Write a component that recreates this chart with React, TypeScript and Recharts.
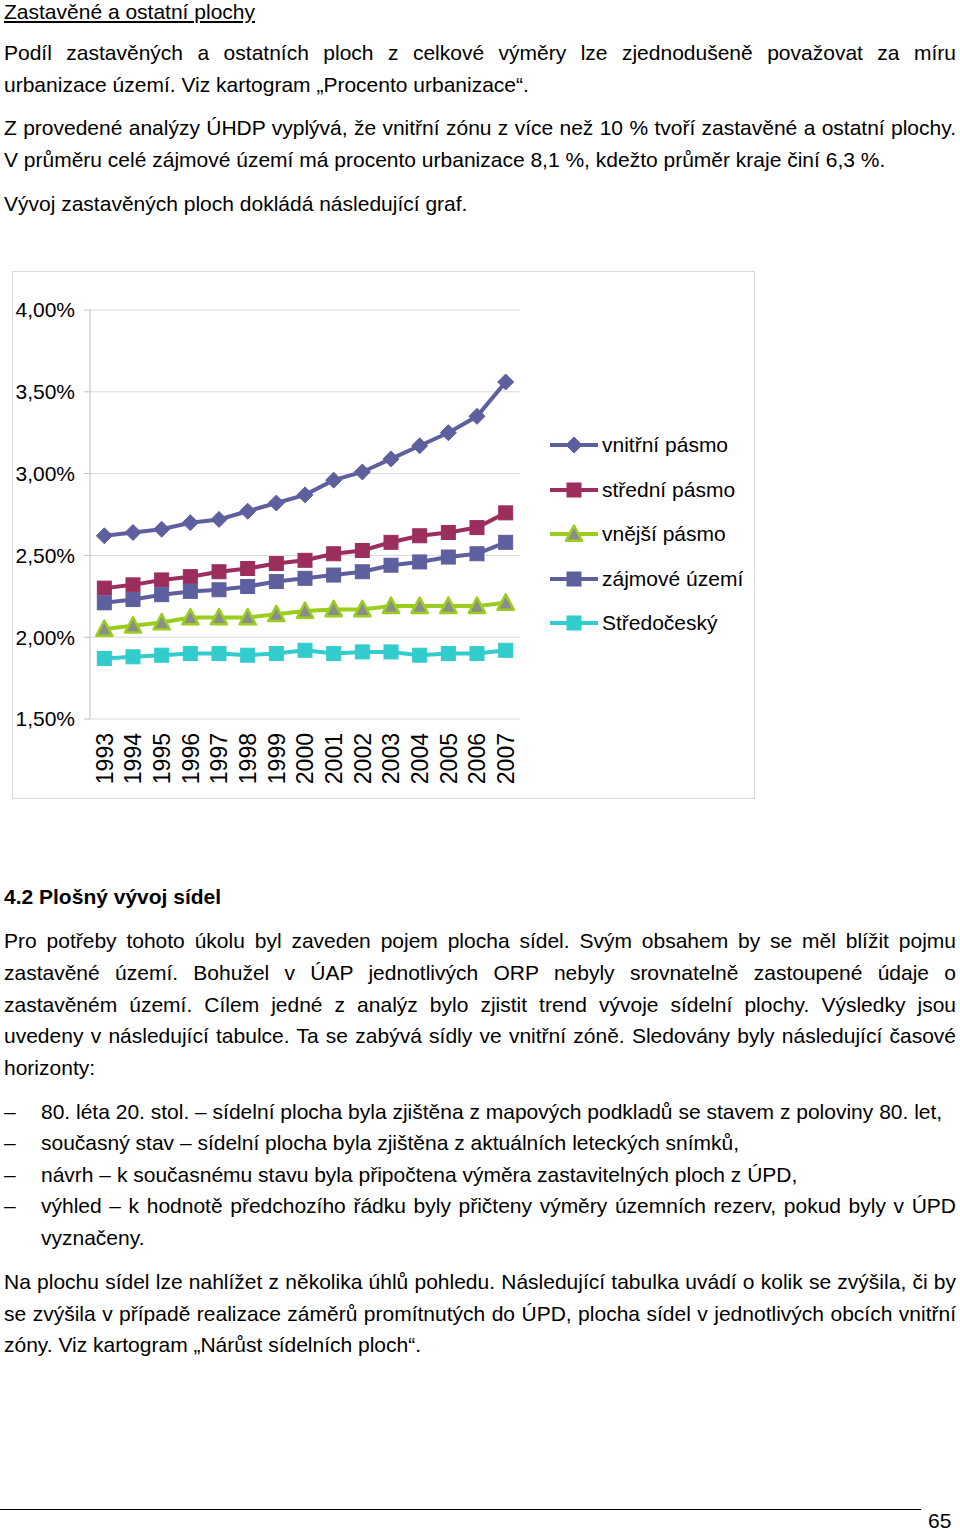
import React from 'react'
import {
  LineChart, Line, XAxis, YAxis, CartesianGrid, Legend,
} from 'recharts'

const years = ['1993', '1994', '1995', '1996', '1997', '1998', '1999', '2000', '2001', '2002', '2003', '2004', '2005', '2006', '2007']
const vnitrni = [2.62, 2.64, 2.66, 2.70, 2.72, 2.77, 2.82, 2.87, 2.96, 3.01, 3.09, 3.17, 3.25, 3.35, 3.56]
const stredni = [2.30, 2.32, 2.35, 2.37, 2.40, 2.42, 2.45, 2.47, 2.51, 2.53, 2.58, 2.62, 2.64, 2.67, 2.76]
const vnejsi = [2.05, 2.07, 2.09, 2.12, 2.12, 2.12, 2.14, 2.16, 2.17, 2.17, 2.19, 2.19, 2.19, 2.19, 2.21]
const zajmove = [2.21, 2.23, 2.26, 2.28, 2.29, 2.31, 2.34, 2.36, 2.38, 2.40, 2.44, 2.46, 2.49, 2.51, 2.58]
const stredocesky = [1.87, 1.88, 1.89, 1.90, 1.90, 1.89, 1.90, 1.92, 1.90, 1.91, 1.91, 1.89, 1.90, 1.90, 1.92]
const yTicks = [1.5, 2.0, 2.5, 3.0, 3.5, 4.0]

const FONT = '"Liberation Sans", Arial, sans-serif'

type Shape = 'diamond' | 'square' | 'triangle'

const series: { key: string; name: string; line: string; fill: string; shape: Shape }[] = [
  { key: 'vnitrni', name: 'vnitřní pásmo', line: '#5e5f9f', fill: '#5e5f9f', shape: 'diamond' },
  { key: 'stredni', name: 'střední pásmo', line: '#9c2e5e', fill: '#9c2e5e', shape: 'square' },
  { key: 'vnejsi', name: 'vnější pásmo', line: '#9acd1e', fill: '#8c8c8c', shape: 'triangle' },
  { key: 'zajmove', name: 'zájmové území', line: '#5e5f9f', fill: '#5e5f9f', shape: 'square' },
  { key: 'stredocesky', name: 'Středočeský', line: '#33cccc', fill: '#33cccc', shape: 'square' },
]

const data = years.map((year, i) => ({
  year,
  vnitrni: vnitrni[i],
  stredni: stredni[i],
  vnejsi: vnejsi[i],
  zajmove: zajmove[i],
  stredocesky: stredocesky[i],
}))

function Marker({ cx, cy, shape, fill, line }: { cx: number; cy: number; shape: Shape; fill: string; line: string }) {
  if (shape === 'diamond') {
    const r = 8
    return <polygon points={`${cx},${cy - r} ${cx + r},${cy} ${cx},${cy + r} ${cx - r},${cy}`} fill={fill} stroke={fill} strokeWidth={1} />
  }
  if (shape === 'triangle') {
    const r = 8.5
    return <polygon points={`${cx},${cy - r} ${cx + r * 0.95},${cy + r * 0.8} ${cx - r * 0.95},${cy + r * 0.8}`} fill={fill} stroke={line} strokeWidth={2.5} strokeLinejoin="round" />
  }
  return <rect x={cx - 7} y={cy - 7} width={14} height={14} fill={fill} stroke={fill} strokeWidth={1} />
}

function YearTick({ x, y, payload }: any) {
  const ty = y + 6
  return (
    <text
      x={x}
      y={ty}
      dy="0.36em"
      textAnchor="end"
      transform={`rotate(-90, ${x}, ${ty})`}
      fontSize={23}
      fontFamily={FONT}
      fill="#000"
    >
      {payload.value}
    </text>
  )
}

function LegendBox() {
  return (
    <div style={{ fontFamily: FONT, fontSize: 21, color: '#000' }}>
      {series.map((s) => (
        <div key={s.key} style={{ height: 44.5, display: 'flex', alignItems: 'center' }}>
          <svg width={52} height={20} style={{ display: 'block' }}>
            <line x1={0} y1={10} x2={48} y2={10} stroke={s.line} strokeWidth={4} />
            <Marker cx={24} cy={10} shape={s.shape} fill={s.fill} line={s.line} />
          </svg>
          <span style={{ whiteSpace: 'nowrap' }}>{s.name}</span>
        </div>
      ))}
    </div>
  )
}

function TextLine({ y, x = 4, text, justify = false, bold = false, underline = false, lh = 32 }: {
  y: number; x?: number; text: string; justify?: boolean; bold?: boolean; underline?: boolean; lh?: number
}) {
  return (
    <div
      style={{
        position: 'absolute',
        left: x,
        top: y - lh / 2,
        width: 956 - x,
        height: lh,
        lineHeight: `${lh}px`,
        fontSize: 21,
        fontFamily: FONT,
        fontWeight: bold ? 'bold' : 'normal',
        textDecoration: underline ? 'underline' : 'none',
        textAlign: justify ? 'justify' : 'left',
        textAlignLast: justify ? 'justify' : 'left',
        whiteSpace: justify ? 'normal' : 'nowrap',
        color: '#000',
      }}
    >
      {text}
    </div>
  )
}

function Dash({ y }: { y: number }) {
  return <TextLine x={4} y={y} text="–" />
}

export default function App() {
  return (
    <div style={{ position: 'absolute', left: 0, top: 0, width: 960, height: 1533, background: '#fff', overflow: 'hidden' }}>
      <TextLine y={12} lh={24} text="Zastavěné a ostatní plochy" underline />
      <TextLine y={53} text="Podíl zastavěných a ostatních ploch z celkové výměry lze zjednodušeně považovat za míru" justify />
      <TextLine y={85} text="urbanizace území. Viz kartogram „Procento urbanizace“." />
      <TextLine y={128} text="Z provedené analýzy ÚHDP vyplývá, že vnitřní zónu z více než 10 % tvoří zastavěné a ostatní plochy." justify />
      <TextLine y={160} text="V průměru celé zájmové území má procento urbanizace 8,1 %, kdežto průměr kraje činí 6,3 %." />
      <TextLine y={204} text="Vývoj zastavěných ploch dokládá následující graf." />

      <div style={{ position: 'absolute', left: 12, top: 271, width: 743, height: 528, border: '1px solid #d9d9d9', boxSizing: 'border-box' }}>
        <LineChart width={741} height={526} data={data} margin={{ top: 38, right: 234, bottom: 0, left: 0 }}>
          <CartesianGrid xAxisId="cat" vertical={false} stroke="#d9d9d9" />
          <XAxis
            xAxisId="edge"
            type="number"
            domain={[0, years.length]}
            ticks={[...years.keys(), years.length]}
            tick={false}
            tickSize={6}
            height={0}
            axisLine={{ stroke: '#bfbfbf' }}
            tickLine={{ stroke: '#bfbfbf' }}
          />
          <XAxis
            xAxisId="cat"
            dataKey="year"
            interval={0}
            height={79}
            padding={{ left: 14.33, right: 14.33 }}
            axisLine={false}
            tickLine={false}
            tick={<YearTick />}
          />
          <YAxis
            domain={[1.5, 4]}
            ticks={yTicks}
            width={77}
            tickSize={6}
            tickMargin={9}
            axisLine={{ stroke: '#bfbfbf' }}
            tickLine={{ stroke: '#bfbfbf' }}
            tick={{ fill: '#000', fontSize: 21, fontFamily: FONT }}
            tickFormatter={(v: number) => `${v.toFixed(2).replace('.', ',')}%`}
          />
          <Legend
            layout="vertical"
            align="center"
            verticalAlign="middle"
            wrapperStyle={{ left: 537, top: 151, width: 200 }}
            content={() => <LegendBox />}
          />
          {series.map((s) => (
            <Line
              key={s.key}
              xAxisId="cat"
              dataKey={s.key}
              name={s.name}
              stroke={s.line}
              strokeWidth={4}
              isAnimationActive={false}
              dot={(p: any) => <Marker key={`${s.key}-${p.index}`} cx={p.cx} cy={p.cy} shape={s.shape} fill={s.fill} line={s.line} />}
              activeDot={false}
            />
          ))}
        </LineChart>
      </div>

      <TextLine y={897} text="4.2 Plošný vývoj sídel" bold />
      <TextLine y={941} text="Pro potřeby tohoto úkolu byl zaveden pojem plocha sídel. Svým obsahem by se měl blížit pojmu" justify />
      <TextLine y={973} text="zastavěné území. Bohužel v ÚAP jednotlivých ORP nebyly srovnatelně zastoupené údaje o" justify />
      <TextLine y={1005} text="zastavěném území. Cílem jedné z analýz bylo zjistit trend vývoje sídelní plochy. Výsledky jsou" justify />
      <TextLine y={1036} text="uvedeny v následující tabulce. Ta se zabývá sídly ve vnitřní zóně. Sledovány byly následující časové" justify />
      <TextLine y={1068} text="horizonty:" />

      <Dash y={1112} />
      <TextLine x={41} y={1112} text="80. léta 20. stol. – sídelní plocha byla zjištěna z mapových podkladů se stavem z poloviny 80. let," />
      <Dash y={1143} />
      <TextLine x={41} y={1143} text="současný stav – sídelní plocha byla zjištěna z aktuálních leteckých snímků," />
      <Dash y={1175} />
      <TextLine x={41} y={1175} text="návrh – k současnému stavu byla připočtena výměra zastavitelných ploch z ÚPD," />
      <Dash y={1206} />
      <TextLine x={41} y={1206} text="výhled – k hodnotě předchozího řádku byly přičteny výměry územních rezerv, pokud byly v ÚPD" justify />
      <TextLine x={41} y={1238} text="vyznačeny." />

      <TextLine y={1282} text="Na plochu sídel lze nahlížet z několika úhlů pohledu. Následující tabulka uvádí o kolik se zvýšila, či by" justify />
      <TextLine y={1314} text="se zvýšila v případě realizace záměrů promítnutých do ÚPD, plocha sídel v jednotlivých obcích vnitřní" justify />
      <TextLine y={1345} text="zóny. Viz kartogram „Nárůst sídelních ploch“." />

      <div style={{ position: 'absolute', left: 0, top: 1509, width: 921, height: 0, borderTop: '1.5px solid #000' }} />
      <div style={{ position: 'absolute', left: 928, top: 1508, fontSize: 21, fontFamily: FONT, lineHeight: '26px' }}>65</div>
    </div>
  )
}
